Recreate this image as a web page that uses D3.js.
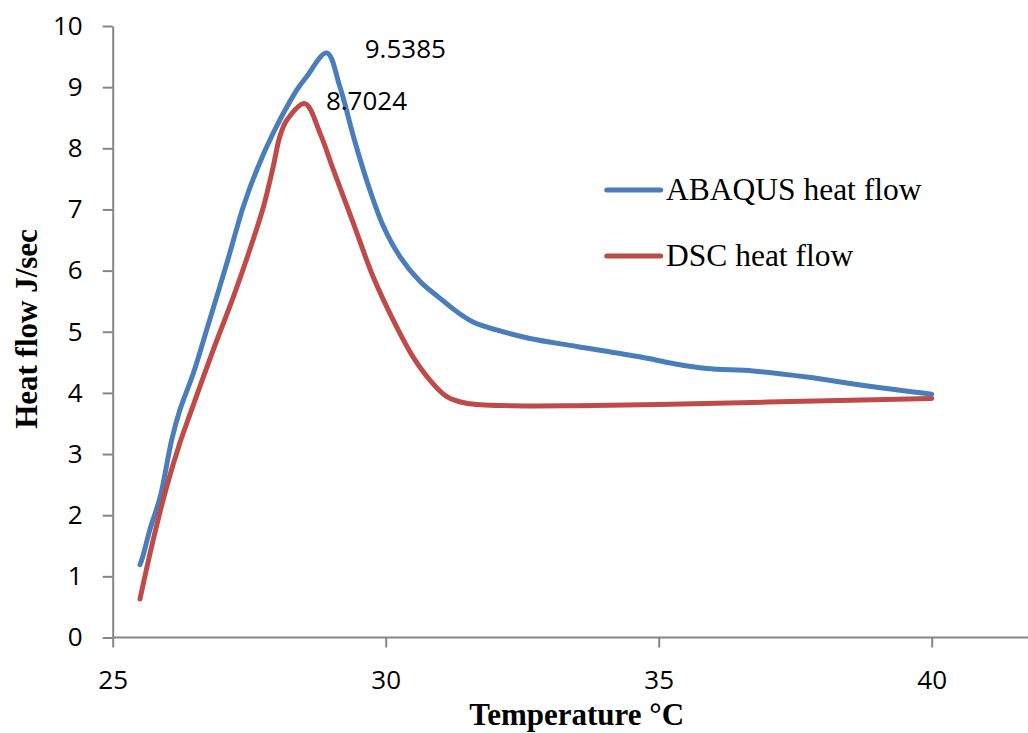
<!DOCTYPE html>
<html>
<head>
<meta charset="utf-8">
<script src="https://cdn.jsdelivr.net/npm/d3@7"></script>
<style>
  html, body { margin: 0; padding: 0; background: #fff; }
  svg { display: block; }
</style>
</head>
<body>
<svg id="chart" width="1028" height="733"></svg>
<script>
// ---- data ----
const abaqusX = [25.5, 25.56, 25.68, 25.87, 26.08, 26.23, 26.48, 26.72, 27.09, 27.39, 27.64, 27.94, 28.37, 28.55, 28.92, 29.16, 29.41, 29.65, 29.96, 30.26, 30.63, 30.99, 31.3, 31.6, 32.03, 32.64, 33.5, 34.65, 35.27, 35.88, 36.73, 37.71, 38.93, 40.0];
const abaqusY = [1.19, 1.35, 1.76, 2.30, 3.23, 3.72, 4.33, 5.03, 6.12, 7.04, 7.65, 8.25, 8.95, 9.17, 9.56, 9.01, 8.19, 7.48, 6.72, 6.23, 5.82, 5.55, 5.33, 5.16, 5.03, 4.89, 4.76, 4.59, 4.48, 4.40, 4.36, 4.26, 4.10, 3.98];
const dscX = [25.5, 25.74, 25.99, 26.23, 26.42, 26.84, 27.21, 27.51, 27.76, 27.94, 28.06, 28.19, 28.52, 28.8, 29.04, 29.41, 29.77, 30.2, 30.5, 30.81, 31.12, 31.48, 32.34, 33.5, 35.0, 37.0, 40.0];
const dscY = [0.63, 1.59, 2.47, 3.18, 3.66, 4.70, 5.57, 6.34, 7.04, 7.70, 8.19, 8.46, 8.73, 8.24, 7.65, 6.77, 5.90, 5.08, 4.59, 4.21, 3.94, 3.83, 3.79, 3.79, 3.81, 3.85, 3.91];
const seriesNames = ["ABAQUS heat flow", "DSC heat flow"];
const seriesColors = ["#4a7ebb", "#be4b48"];
const peakLabels = ["9.5385", "8.7024"];
const xTicks = [25, 30, 35, 40];
const yTicks = [0, 1, 2, 3, 4, 5, 6, 7, 8, 9, 10];
const xTitle = "Temperature \u00B0C";
const yTitle = "Heat flow J/sec";

// ---- layout ----
const svg = d3.select("#chart");
const x = d3.scaleLinear().domain([25, 45]).range([112.7, 1204.7]);
const y = d3.scaleLinear().domain([0, 10]).range([637.5, 26]);
const axisColor = "#868686";
const tickFont = "'Open Sans', 'Noto Sans', sans-serif";
const serifFont = "'Liberation Serif', 'Times New Roman', serif";

// x axis
const gx = svg.append("g").attr("transform", `translate(0,${y(0)})`)
  .call(d3.axisBottom(x).tickValues(xTicks).tickSize(10).tickSizeOuter(0).tickPadding(23).tickFormat(d3.format("d")));
// y axis
const gy = svg.append("g").attr("transform", `translate(${x(25)},0)`)
  .call(d3.axisLeft(y).tickValues(yTicks).tickSize(10).tickSizeOuter(0).tickPadding(20).tickFormat(d3.format("d")));
[gx, gy].forEach(g => {
  g.select(".domain").attr("stroke", axisColor).attr("stroke-width", 2);
  g.selectAll(".tick line").attr("stroke", axisColor).attr("stroke-width", 2);
  g.selectAll(".tick text").attr("fill", "#000").style("font-family", tickFont).style("font-size", "26px");
});
// extend x domain line to the right edge of the image
gx.select(".domain").attr("d", `M${x(25)},0H1040`);

// series
const series = [
  abaqusX.map((d, i) => [d, abaqusY[i]]),
  dscX.map((d, i) => [d, dscY[i]])
];
const line = d3.line().x(d => x(d[0])).y(d => y(d[1])).curve(d3.curveCatmullRom.alpha(0.5));
series.forEach((s, i) => {
  svg.append("path").datum(s)
    .attr("d", line)
    .attr("fill", "none")
    .attr("stroke", seriesColors[i])
    .attr("stroke-width", 5)
    .attr("stroke-linecap", "round")
    .attr("stroke-linejoin", "round");
});

// peak data labels
const labelOffsets = [[38, 5], [21, 6]];
series.forEach((s, i) => {
  const peak = s.reduce((a, b) => (b[1] > a[1] ? b : a));
  svg.append("text")
    .attr("x", x(peak[0]) + labelOffsets[i][0])
    .attr("y", y(peak[1]) + labelOffsets[i][1])
    .style("font-family", tickFont).style("font-size", "26px")
    .attr("fill", "#000")
    .text(peakLabels[i]);
});

// legend
seriesNames.forEach((name, i) => {
  const ly = 190 + i * 66;
  svg.append("line").attr("x1", 606.7).attr("x2", 660.7).attr("y1", ly).attr("y2", ly)
    .attr("stroke", seriesColors[i]).attr("stroke-width", 5).attr("stroke-linecap", "round");
  svg.append("text").attr("x", 666).attr("y", ly + 9.5)
    .style("font-family", serifFont).style("font-size", "31.5px").attr("fill", "#000")
    .text(name);
});

// axis titles
svg.append("text").attr("x", 576.7).attr("y", 725).attr("text-anchor", "middle")
  .style("font-family", serifFont).style("font-size", "31px").style("font-weight", "bold")
  .text(xTitle);
svg.append("text").attr("transform", "translate(37,329) rotate(-90)").attr("text-anchor", "middle")
  .style("font-family", serifFont).style("font-size", "31px").style("font-weight", "bold")
  .text(yTitle);
</script>
</body>
</html>
